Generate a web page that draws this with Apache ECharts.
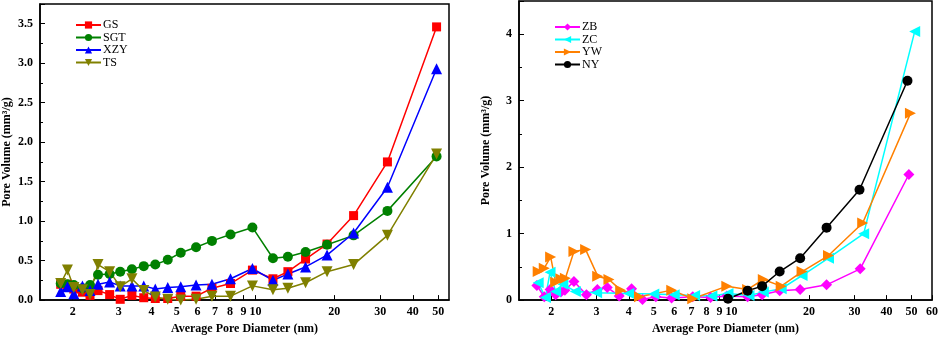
<!DOCTYPE html>
<html>
<head>
<meta charset="utf-8">
<script src="https://cdn.jsdelivr.net/npm/echarts@6/dist/echarts.min.js"></script>
<style>html,body{margin:0;padding:0;background:#fff}#c{width:941px;height:340px}</style>
</head>
<body>
<div id="c"></div>
<script>
// ---- Left panel data ----
const leftDiam = [1.80, 1.91, 2.02, 2.18, 2.33, 2.50, 2.77, 3.04, 3.37, 3.74, 4.14, 4.62, 5.18, 5.93, 6.82, 8.03, 9.74, 11.67, 13.31, 15.55, 18.79, 23.74, 31.98, 49.3];
const GS  = [0.20, 0.20, 0.14, 0.10, 0.06, 0.12, 0.07, 0.01, 0.06, 0.03, 0.02, 0.02, 0.05, 0.05, 0.15, 0.21, 0.38, 0.27, 0.36, 0.52, 0.71, 1.07, 1.75, 3.46];
const SGT = [0.21, 0.20, 0.19, 0.15, 0.19, 0.32, 0.33, 0.36, 0.39, 0.43, 0.45, 0.51, 0.60, 0.67, 0.75, 0.83, 0.92, 0.53, 0.55, 0.61, 0.70, 0.82, 1.13, 1.82];
const XZY = [0.11, 0.17, 0.08, 0.18, 0.12, 0.20, 0.23, 0.18, 0.18, 0.18, 0.14, 0.16, 0.17, 0.19, 0.20, 0.27, 0.40, 0.25, 0.33, 0.42, 0.57, 0.85, 1.43, 2.93];
const TS  = [0.21, 0.38, 0.16, 0.13, 0.07, 0.45, 0.36, 0.17, 0.27, 0.12, 0.04, 0.01, 0.00, 0.01, 0.05, 0.05, 0.18, 0.13, 0.15, 0.22, 0.36, 0.45, 0.82, 1.85];
const leftTicks = [2, 3, 4, 5, 6, 7, 8, 9, 10, 20, 30, 40, 50];

// ---- Right panel data ----
const ZB_d = [1.76, 1.88, 1.98, 2.08, 2.18, 2.26, 2.45, 2.74, 3.02, 3.30, 3.67, 4.10, 4.52, 5.09, 5.86, 7.08, 8.3, 9.6, 11.56, 13.16, 15.39, 18.48, 23.4, 31.6, 48.8];
const ZB   = [0.22, 0.05, 0.16, 0.08, 0.12, 0.15, 0.28, 0.08, 0.16, 0.19, 0.06, 0.17, 0.01, 0.05, 0.03, 0.05, 0.04, 0.06, 0.05, 0.08, 0.14, 0.16, 0.23, 0.47, 1.89];
const ZC_d = [1.78, 1.90, 1.98, 2.08, 2.22, 2.48, 3.0, 4.0, 5.0, 6.0, 7.2, 8.4, 9.7, 11.7, 13.3, 15.6, 18.8, 23.8, 32.6, 51.4];
const ZC   = [0.26, 0.04, 0.42, 0.13, 0.24, 0.13, 0.11, 0.10, 0.09, 0.08, 0.07, 0.06, 0.10, 0.07, 0.12, 0.17, 0.37, 0.63, 1.00, 4.04];
const YW_d = [1.78, 1.88, 1.99, 2.08, 2.18, 2.27, 2.45, 2.72, 3.03, 3.35, 3.72, 4.40, 5.87, 7.08, 9.6, 11.56, 13.3, 15.6, 18.8, 23.8, 32.3, 49.5];
const YW   = [0.43, 0.48, 0.65, 0.27, 0.32, 0.33, 0.73, 0.76, 0.36, 0.31, 0.15, 0.05, 0.15, 0.02, 0.21, 0.16, 0.31, 0.21, 0.43, 0.67, 1.16, 2.81];
const NY_d = [9.7, 11.56, 13.16, 15.39, 18.48, 23.4, 31.4, 48.2];
const NY   = [0.02, 0.14, 0.21, 0.43, 0.63, 1.09, 1.66, 3.30];
const rightTicks = [2, 3, 4, 5, 6, 7, 8, 9, 10, 20, 30, 40, 50, 60];

const FONT = 'Liberation Serif';
const lg = Math.log10;
const pts = (d, v) => d.map((x, i) => [lg(x), v[i]]);

function xAxisDef(gridIndex, minV, maxV, ticks) {
  const tv = ticks.map(lg);
  return {
    type: 'value', gridIndex, min: lg(minV), max: lg(maxV),
    name: 'Average Pore Diameter (nm)', nameLocation: 'middle', nameGap: 22,
    nameTextStyle: {fontFamily: FONT, fontWeight: 'bold', fontSize: 12, color: '#000'},
    axisLine: {show: true, onZero: false, lineStyle: {color: '#000', width: 1.5}},
    axisTick: {show: true, inside: true, length: 5, customValues: tv, lineStyle: {color: '#000', width: 1}},
    axisLabel: {customValues: tv, margin: 6, fontFamily: FONT, fontWeight: 'bold', fontSize: 12, color: '#000',
      formatter: v => String(Math.round(Math.pow(10, v)))},
    splitLine: {show: false}
  };
}
function yAxisDef(gridIndex, maxV, interval, decimals) {
  return {
    type: 'value', gridIndex, min: 0, max: maxV, interval,
    name: 'Pore Volume (mm³/g)', nameLocation: 'middle', nameGap: 27,
    nameTextStyle: {fontFamily: FONT, fontWeight: 'bold', fontSize: 12, color: '#000'},
    axisLine: {show: true, lineStyle: {color: '#000', width: 1.5}},
    axisTick: {show: true, inside: true, length: 5, lineStyle: {color: '#000', width: 1}},
    minorTick: {show: true, splitNumber: 2, length: 3, lineStyle: {color: '#000', width: 1}},
    axisLabel: {margin: 7, fontFamily: FONT, fontWeight: 'bold', fontSize: 12, color: '#000',
      formatter: v => (Math.abs(v / interval - Math.round(v / interval)) < 1e-6) ? v.toFixed(decimals) : ''},
    splitLine: {show: false}
  };
}
function ser(name, data, color, symbol, rot, xi, yi) {
  return {
    name, type: 'line', data, xAxisIndex: xi, yAxisIndex: yi,
    symbol, symbolSize: symbol === 'rect' ? 9 : (symbol === 'circle' ? 10 : 11), symbolRotate: rot,
    showAllSymbol: true, animation: false,
    lineStyle: {color, width: 1.5}, itemStyle: {color}
  };
}

const chart = echarts.init(document.getElementById('c'), null, {renderer: 'canvas'});
chart.setOption({
  backgroundColor: '#fff',
  animation: false,
  grid: [
    {left: 40, right: 492, top: 4, bottom: 37, show: true, borderColor: '#000', borderWidth: 1.5},
    {left: 519, right: 6, top: 1, bottom: 35, show: true, borderColor: '#000', borderWidth: 1.5}
  ],
  legend: [
    {data: ['GS', 'SGT', 'XZY', 'TS'], orient: 'vertical', left: 70, top: 14, itemWidth: 25, itemHeight: 9, itemGap: 0.5,
      textStyle: {fontFamily: FONT, fontSize: 12, color: '#000', padding: [0, 0, 0, -3]}},
    {data: ['ZB', 'ZC', 'YW', 'NY'], orient: 'vertical', left: 549, top: 16, itemWidth: 25, itemHeight: 9, itemGap: 0.5,
      textStyle: {fontFamily: FONT, fontSize: 12, color: '#000', padding: [0, 0, 0, -3]}}
  ],
  xAxis: [xAxisDef(0, 1.5, 55, leftTicks), xAxisDef(1, 1.5, 60, rightTicks)],
  yAxis: [yAxisDef(0, 3.75, 0.5, 1), yAxisDef(1, 4.5, 1, 0)],
  series: [
    ser('GS', pts(leftDiam, GS), '#FF0000', 'rect', 0, 0, 0),
    ser('SGT', pts(leftDiam, SGT), '#008000', 'circle', 0, 0, 0),
    ser('XZY', pts(leftDiam, XZY), '#0000FF', 'triangle', 0, 0, 0),
    ser('TS', pts(leftDiam, TS), '#808000', 'triangle', 180, 0, 0),
    ser('ZB', pts(ZB_d, ZB), '#FF00FF', 'diamond', 0, 1, 1),
    ser('ZC', pts(ZC_d, ZC), '#00FFFF', 'triangle', 90, 1, 1),
    ser('YW', pts(YW_d, YW), '#FF8000', 'triangle', -90, 1, 1),
    ser('NY', pts(NY_d, NY), '#000000', 'circle', 0, 1, 1)
  ]
});
</script>
</body>
</html>
